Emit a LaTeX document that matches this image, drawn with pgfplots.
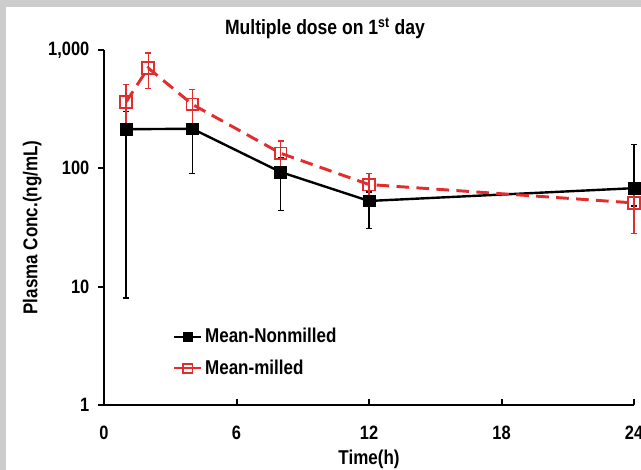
\documentclass[border=0pt]{standalone}
\usepackage{fontspec}
\setmainfont{Liberation Sans}[FakeStretch=0.85]
\usepackage{pgfplots}
\pgfplotsset{compat=1.18}
\usepackage{pgfplotstable}

\definecolor{milledred}{RGB}{225,45,45}
\definecolor{framegray}{RGB}{204,204,204}

% x  y  plus  minus
\pgfplotstableread{
x   y    ep   em
1   214  90   206
4   216  100  125
8   93   30   49
12  53   10   22
24  68   91   20
}\nonmilled
\pgfplotstableread{
x   y    ep   em
1   364  150  140
2   705  236  230
4   347  116  125
8   134  36   37
12  73   17   16
24  51   16   23
}\milled

\begin{document}
\begin{tikzpicture}
% 1px = 0.75pt, picture 641x470 px
\useasboundingbox (0,0) rectangle (480.75pt,-352.5pt);
\fill[framegray] (0,0) rectangle (480.75pt,-352.5pt);
\fill[white] (4.5pt,-5.25pt) rectangle (480.75pt,-352.5pt);

\node[font=\bfseries\fontsize{15.5}{18}\selectfont] at (243.75pt,-21.5pt)
  {Multiple dose on 1\textsuperscript{st} day};

\begin{axis}[
    at={(78pt,-303.75pt)}, anchor=south west,
    scale only axis,
    width=397.5pt, height=266.25pt,
    ymode=log,
    xmin=0, xmax=24,
    ymin=1, ymax=1000,
    xtick={0,6,12,18,24},
    xticklabels={0,6,12,18,24},
    ytick={1,10,100,1000},
    yticklabels={1,10,100,{1,000}},
    yminorticks=false,
    axis x line*=bottom,
    axis y line*=left,
    axis line style={line width=1.8pt},
    xtick align=inside,
    ytick align=outside,
    major tick length=4.5pt,
    tick style={line width=1.5pt, black},
    tick label style={font=\bfseries\fontsize{14.5}{17}\selectfont},
    xticklabel style={yshift=-12pt},
    yticklabel style={xshift=-3pt},
    xlabel={Time(h)},
    ylabel={Plasma Conc.(ng/mL)},
    label style={font=\bfseries\fontsize{15}{18}\selectfont},
    xlabel style={yshift=-1pt},
    ylabel style={yshift=-2pt},
    clip=false,
    legend style={draw=none, fill=none, at={(0.13,0.224)}, anchor=north west,
      font=\bfseries\fontsize{15}{18}\selectfont, row sep=7.5pt,
      inner sep=0pt, /tikz/every even column/.append style={column sep=2pt}},
    legend cell align=left,
    legend image code/.code={%
      \draw[solid, line width=1.5pt, mark size=3.6pt, mark repeat=2, mark phase=2]
        plot coordinates {(0cm,0cm) (0.36cm,0cm) (0.72cm,0cm)};},
    error bars/y dir=both,
    error bars/y explicit,
]
\addplot[black, line width=1.8pt, mark=square*, mark size=4.4pt,
    mark options={solid, line width=0.5pt},
    error bars/error bar style={line width=1pt, solid},
    error bars/error mark options={rotate=90, mark size=2.2pt, line width=1pt}]
  table[x=x, y=y, y error plus=ep, y error minus=em] {\nonmilled};
\addlegendentry{Mean-Nonmilled}
\addplot[milledred, line width=2.2pt, dash pattern=on 9.5pt off 5.5pt,
    mark=square, mark size=4.4pt,
    mark options={solid, line width=1.3pt, fill=none},
    error bars/error bar style={line width=1pt, solid},
    error bars/error mark options={rotate=90, mark size=2.2pt, line width=1pt}]
  table[x=x, y=y, y error plus=ep, y error minus=em] {\milled};
\addlegendentry{Mean-milled}
\end{axis}
\end{tikzpicture}
\end{document}
